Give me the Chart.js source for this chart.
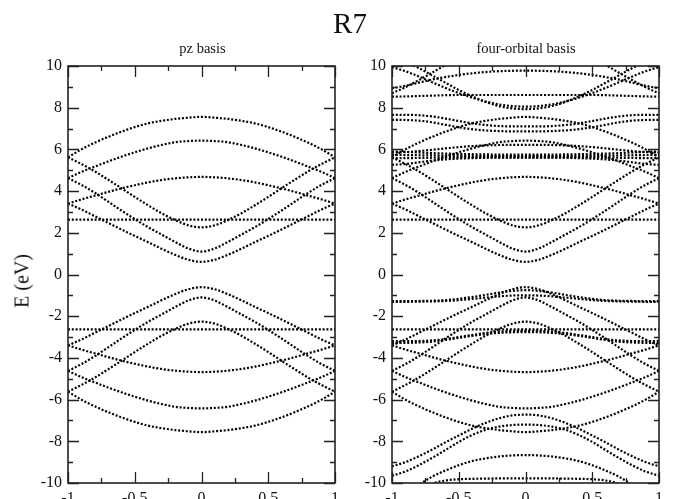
<!DOCTYPE html>
<html>
<head>
<meta charset="utf-8">
<script src="https://cdn.jsdelivr.net/npm/chart.js@4.4.1/dist/chart.umd.min.js"></script>
<style>
  html, body { margin: 0; padding: 0; background: #fff; }
  #wrap { position: relative; width: 677px; height: 499px; overflow: hidden; font-family: "Liberation Serif", "DejaVu Serif", serif; color: #111; }
  canvas { position: absolute; top: 0; }
  .txt { position: absolute; white-space: nowrap; }
  #title { left: 350px; top: 7px; font-size: 29px; transform: translateX(-50%); }
  #sub1 { left: 68px; width: 269px; text-align: center; top: 40px; font-size: 14.5px; }
  #sub2 { left: 392px; width: 268px; text-align: center; top: 40px; font-size: 14.5px; }
  #ylab { left: 22px; top: 281px; font-size: 20px; transform: translate(-50%, -50%) rotate(-90deg); }
</style>
</head>
<body>
<div id="wrap">
  <canvas id="left" width="345" height="499" style="left:0px"></canvas>
  <canvas id="right" width="332" height="499" style="left:345px"></canvas>
  <div class="txt" id="title">R7</div>
  <div class="txt" id="sub1">pz basis</div>
  <div class="txt" id="sub2">four-orbital basis</div>
  <div class="txt" id="ylab">E (eV)</div>
</div>
<script>
// wave-vector grid (units of pi/a)
const K = [-1, -0.9, -0.8, -0.7, -0.6, -0.5, -0.4, -0.3, -0.2, -0.1, 0, 0.1, 0.2, 0.3, 0.4, 0.5, 0.6, 0.7, 0.8, 0.9, 1];
const xTicks = [-1, -0.5, 0, 0.5, 1];
const yTicks = [-10, -8, -6, -4, -2, 0, 2, 4, 6, 8, 10];

// pi bands (conduction side)
const piA = [5.62, 6.00, 6.32, 6.60, 6.85, 7.07, 7.25, 7.37, 7.46, 7.52, 7.56, 7.52, 7.46, 7.37, 7.25, 7.07, 6.85, 6.60, 6.32, 6.00, 5.62];
const piB = [4.62, 4.92, 5.17, 5.42, 5.65, 5.86, 6.05, 6.21, 6.34, 6.40, 6.42, 6.40, 6.34, 6.21, 6.05, 5.86, 5.65, 5.42, 5.17, 4.92, 4.62];
const piC = [3.40, 3.60, 3.78, 3.96, 4.13, 4.28, 4.42, 4.53, 4.61, 4.66, 4.68, 4.66, 4.61, 4.53, 4.42, 4.28, 4.13, 3.96, 3.78, 3.60, 3.40];
const piD = [5.62, 5.30, 4.95, 4.55, 4.14, 3.72, 3.32, 2.94, 2.62, 2.36, 2.26, 2.36, 2.62, 2.94, 3.32, 3.72, 4.14, 4.55, 4.95, 5.30, 5.62];
const piE = [4.62, 4.30, 3.92, 3.50, 3.07, 2.66, 2.27, 1.92, 1.57, 1.25, 1.10, 1.25, 1.57, 1.92, 2.27, 2.66, 3.07, 3.50, 3.92, 4.30, 4.62];
const piF = [3.40, 3.12, 2.80, 2.48, 2.16, 1.85, 1.55, 1.24, 0.95, 0.71, 0.61, 0.71, 0.95, 1.24, 1.55, 1.85, 2.16, 2.48, 2.80, 3.12, 3.40];
const piFlat = [2.63, 2.63, 2.63, 2.63, 2.63, 2.63, 2.63, 2.63, 2.63, 2.63, 2.63, 2.63, 2.63, 2.63, 2.63, 2.63, 2.63, 2.63, 2.63, 2.63, 2.63];

// pi bands (valence side)
const piAv = [-5.62, -6.00, -6.32, -6.60, -6.85, -7.07, -7.25, -7.37, -7.46, -7.52, -7.56, -7.52, -7.46, -7.37, -7.25, -7.07, -6.85, -6.60, -6.32, -6.00, -5.62];
const piBv = [-4.62, -4.92, -5.17, -5.42, -5.65, -5.86, -6.05, -6.21, -6.34, -6.40, -6.42, -6.40, -6.34, -6.21, -6.05, -5.86, -5.65, -5.42, -5.17, -4.92, -4.62];
const piCv = [-3.40, -3.60, -3.78, -3.96, -4.13, -4.28, -4.42, -4.53, -4.61, -4.66, -4.68, -4.66, -4.61, -4.53, -4.42, -4.28, -4.13, -3.96, -3.78, -3.60, -3.40];
const piDv = [-5.62, -5.30, -4.95, -4.55, -4.14, -3.72, -3.32, -2.94, -2.62, -2.36, -2.26, -2.36, -2.62, -2.94, -3.32, -3.72, -4.14, -4.55, -4.95, -5.30, -5.62];
const piEv = [-4.62, -4.30, -3.92, -3.50, -3.07, -2.66, -2.27, -1.92, -1.57, -1.25, -1.10, -1.25, -1.57, -1.92, -2.27, -2.66, -3.07, -3.50, -3.92, -4.30, -4.62];
const piFv = [-3.40, -3.12, -2.80, -2.48, -2.16, -1.85, -1.55, -1.24, -0.95, -0.71, -0.61, -0.71, -0.95, -1.24, -1.55, -1.85, -2.16, -2.48, -2.80, -3.12, -3.40];
const piFlatv = [-2.63, -2.63, -2.63, -2.63, -2.63, -2.63, -2.63, -2.63, -2.63, -2.63, -2.63, -2.63, -2.63, -2.63, -2.63, -2.63, -2.63, -2.63, -2.63, -2.63, -2.63];

// sigma bands, antibonding side
const sU1 = [8.93, 9.05, 9.20, 9.35, 9.47, 9.57, 9.65, 9.71, 9.75, 9.77, 9.78, 9.77, 9.75, 9.71, 9.65, 9.57, 9.47, 9.35, 9.20, 9.05, 8.93];
const sU2 = [9.95, 9.75, 9.50, 9.22, 8.95, 8.70, 8.48, 8.30, 8.16, 8.08, 8.05, 8.08, 8.16, 8.30, 8.48, 8.70, 8.95, 9.22, 9.50, 9.75, 9.95];
const sU3 = [10.40, 10.20, 9.90, 9.55, 9.20, 8.85, 8.55, 8.28, 8.08, 7.97, 7.93, 7.97, 8.08, 8.28, 8.55, 8.85, 9.20, 9.55, 9.90, 10.20, 10.40];
const sU4 = [8.69, 8.98, 9.32, 9.68, 10.05, 10.40, 10.70, 10.90, 11.00, 11.10, 11.10, 11.10, 11.00, 10.90, 10.70, 10.40, 10.05, 9.68, 9.32, 8.98, 8.69];
const sU5 = [8.53, 8.54, 8.56, 8.58, 8.60, 8.61, 8.61, 8.61, 8.61, 8.61, 8.61, 8.61, 8.61, 8.61, 8.61, 8.61, 8.60, 8.58, 8.56, 8.54, 8.53];
const sU6 = [7.66, 7.66, 7.64, 7.58, 7.48, 7.36, 7.25, 7.17, 7.12, 7.10, 7.10, 7.10, 7.12, 7.17, 7.25, 7.36, 7.48, 7.58, 7.64, 7.66, 7.66];
const sU7 = [7.42, 7.41, 7.38, 7.30, 7.18, 7.06, 6.97, 6.91, 6.88, 6.86, 6.86, 6.86, 6.88, 6.91, 6.97, 7.06, 7.18, 7.30, 7.38, 7.41, 7.42];
const sU8 = [5.85, 5.87, 5.92, 5.98, 6.05, 6.11, 6.16, 6.19, 6.21, 6.22, 6.22, 6.22, 6.21, 6.19, 6.16, 6.11, 6.05, 5.98, 5.92, 5.87, 5.85];
const sU9 = [5.90, 5.88, 5.85, 5.82, 5.80, 5.78, 5.77, 5.76, 5.75, 5.75, 5.75, 5.75, 5.75, 5.76, 5.77, 5.78, 5.80, 5.82, 5.85, 5.88, 5.90];
const sU10 = [5.74, 5.73, 5.72, 5.71, 5.70, 5.69, 5.69, 5.68, 5.68, 5.68, 5.68, 5.68, 5.68, 5.68, 5.69, 5.69, 5.70, 5.71, 5.72, 5.73, 5.74];
const sU11 = [5.58, 5.58, 5.59, 5.60, 5.61, 5.62, 5.62, 5.62, 5.62, 5.62, 5.62, 5.62, 5.62, 5.62, 5.62, 5.62, 5.61, 5.60, 5.59, 5.58, 5.58];
const sU12 = [5.26, 5.30, 5.38, 5.46, 5.52, 5.56, 5.58, 5.60, 5.61, 5.61, 5.61, 5.61, 5.61, 5.60, 5.58, 5.56, 5.52, 5.46, 5.38, 5.30, 5.26];

// sigma bands, bonding side
const sL1 = [-1.28, -1.28, -1.27, -1.26, -1.23, -1.17, -1.08, -0.98, -0.87, -0.79, -0.75, -0.79, -0.87, -0.98, -1.08, -1.17, -1.23, -1.26, -1.27, -1.28, -1.28];
const sL2 = [-1.31, -1.31, -1.30, -1.29, -1.27, -1.23, -1.17, -1.11, -1.05, -1.01, -1.00, -1.01, -1.05, -1.11, -1.17, -1.23, -1.27, -1.29, -1.30, -1.31, -1.31];
const sL3 = [-3.20, -3.20, -3.19, -3.16, -3.10, -3.00, -2.90, -2.80, -2.74, -2.71, -2.70, -2.71, -2.74, -2.80, -2.90, -3.00, -3.10, -3.16, -3.19, -3.20, -3.20];
const sL4 = [-3.29, -3.28, -3.26, -3.22, -3.14, -3.04, -2.94, -2.86, -2.80, -2.77, -2.76, -2.77, -2.80, -2.86, -2.94, -3.04, -3.14, -3.22, -3.26, -3.28, -3.29];
const sL5 = [-9.20, -9.00, -8.72, -8.40, -8.05, -7.72, -7.40, -7.12, -6.90, -6.76, -6.72, -6.76, -6.90, -7.12, -7.40, -7.72, -8.05, -8.40, -8.72, -9.00, -9.20];
const sL6 = [-9.65, -9.45, -9.15, -8.80, -8.42, -8.03, -7.70, -7.45, -7.30, -7.22, -7.20, -7.22, -7.30, -7.45, -7.70, -8.03, -8.42, -8.80, -9.15, -9.45, -9.65];
const sL7 = [-11.00, -10.60, -10.10, -9.70, -9.40, -9.15, -8.95, -8.82, -8.73, -8.68, -8.66, -8.68, -8.73, -8.82, -8.95, -9.15, -9.40, -9.70, -10.10, -10.60, -11.00];
const sL8 = [-11.50, -11.00, -10.50, -10.05, -9.88, -9.82, -9.80, -9.79, -9.78, -9.78, -9.78, -9.78, -9.78, -9.79, -9.80, -9.82, -9.88, -10.05, -10.50, -11.00, -11.50];

const piBands = [piA, piB, piC, piD, piE, piF, piFlat, piAv, piBv, piCv, piDv, piEv, piFv, piFlatv];
const sigmaBands = [sU1, sU2, sU3, sU4, sU5, sU6, sU7, sU8, sU9, sU10, sU11, sU12, sL1, sL2, sL3, sL4, sL5, sL6, sL7, sL8];

function bandDataset(values) {
  return {
    data: K.map((k, i) => ({ x: k, y: values[i] })),
    showLine: true,
    borderColor: '#000',
    borderWidth: 2.2,
    borderDash: [2, 1.8],
    borderCapStyle: 'butt',
    pointRadius: 0,
    cubicInterpolationMode: 'monotone',
    fill: false
  };
}

// frame with inward major/minor ticks on all four sides
const frameTicks = {
  id: 'frameTicks',
  afterDraw(chart) {
    const { ctx, chartArea: a, scales: { x, y } } = chart;
    ctx.save();
    ctx.strokeStyle = '#222';
    ctx.lineWidth = 1.6;
    ctx.strokeRect(a.left, a.top, a.right - a.left, a.bottom - a.top);
    ctx.lineWidth = 1.3;
    ctx.beginPath();
    for (let v = -1; v <= 1.0001; v += 0.25) {
      const px = Math.round(x.getPixelForValue(v)) + 0.5;
      const major = Math.abs(v * 2 - Math.round(v * 2)) < 1e-6;
      const len = major ? 11 : 5;
      ctx.moveTo(px, a.bottom); ctx.lineTo(px, a.bottom - len);
      ctx.moveTo(px, a.top); ctx.lineTo(px, a.top + len);
    }
    for (let v = -10; v <= 10; v += 1) {
      const py = Math.round(y.getPixelForValue(v)) + 0.5;
      const len = (v % 2 === 0) ? 11 : 5;
      ctx.moveTo(a.left, py); ctx.lineTo(a.left + len, py);
      ctx.moveTo(a.right, py); ctx.lineTo(a.right - len, py);
    }
    ctx.stroke();
    ctx.restore();
  }
};

function makeChart(id, bands, yWidth, padRight) {
  const tickFont = { family: '"Liberation Serif", "DejaVu Serif", serif', size: 16 };
  return new Chart(document.getElementById(id), {
    type: 'scatter',
    data: { datasets: bands.map(bandDataset) },
    options: {
      responsive: false,
      animation: false,
      events: [],
      layout: { padding: { top: 66, right: padRight, bottom: 0, left: 0 } },
      plugins: { legend: { display: false }, tooltip: { enabled: false }, title: { display: false } },
      scales: {
        x: {
          type: 'linear', min: -1, max: 1,
          afterBuildTicks: s => { s.ticks = xTicks.map(v => ({ value: v })); },
          afterFit: s => { s.height = 16; },
          grid: { display: false, drawTicks: false },
          border: { display: false },
          ticks: { font: tickFont, color: '#111', padding: 6, maxRotation: 0, autoSkip: false,
                   callback: v => String(v) }
        },
        y: {
          type: 'linear', min: -10, max: 10,
          afterBuildTicks: s => { s.ticks = yTicks.map(v => ({ value: v })); },
          afterFit: s => { s.width = yWidth; },
          grid: { display: false, drawTicks: false },
          border: { display: false },
          ticks: { font: tickFont, color: '#111', padding: 6, autoSkip: false, callback: v => String(v) }
        }
      }
    },
    plugins: [frameTicks]
  });
}

makeChart('left', piBands, 68, 8);
makeChart('right', piBands.concat(sigmaBands), 47, 18);
</script>
</body>
</html>
